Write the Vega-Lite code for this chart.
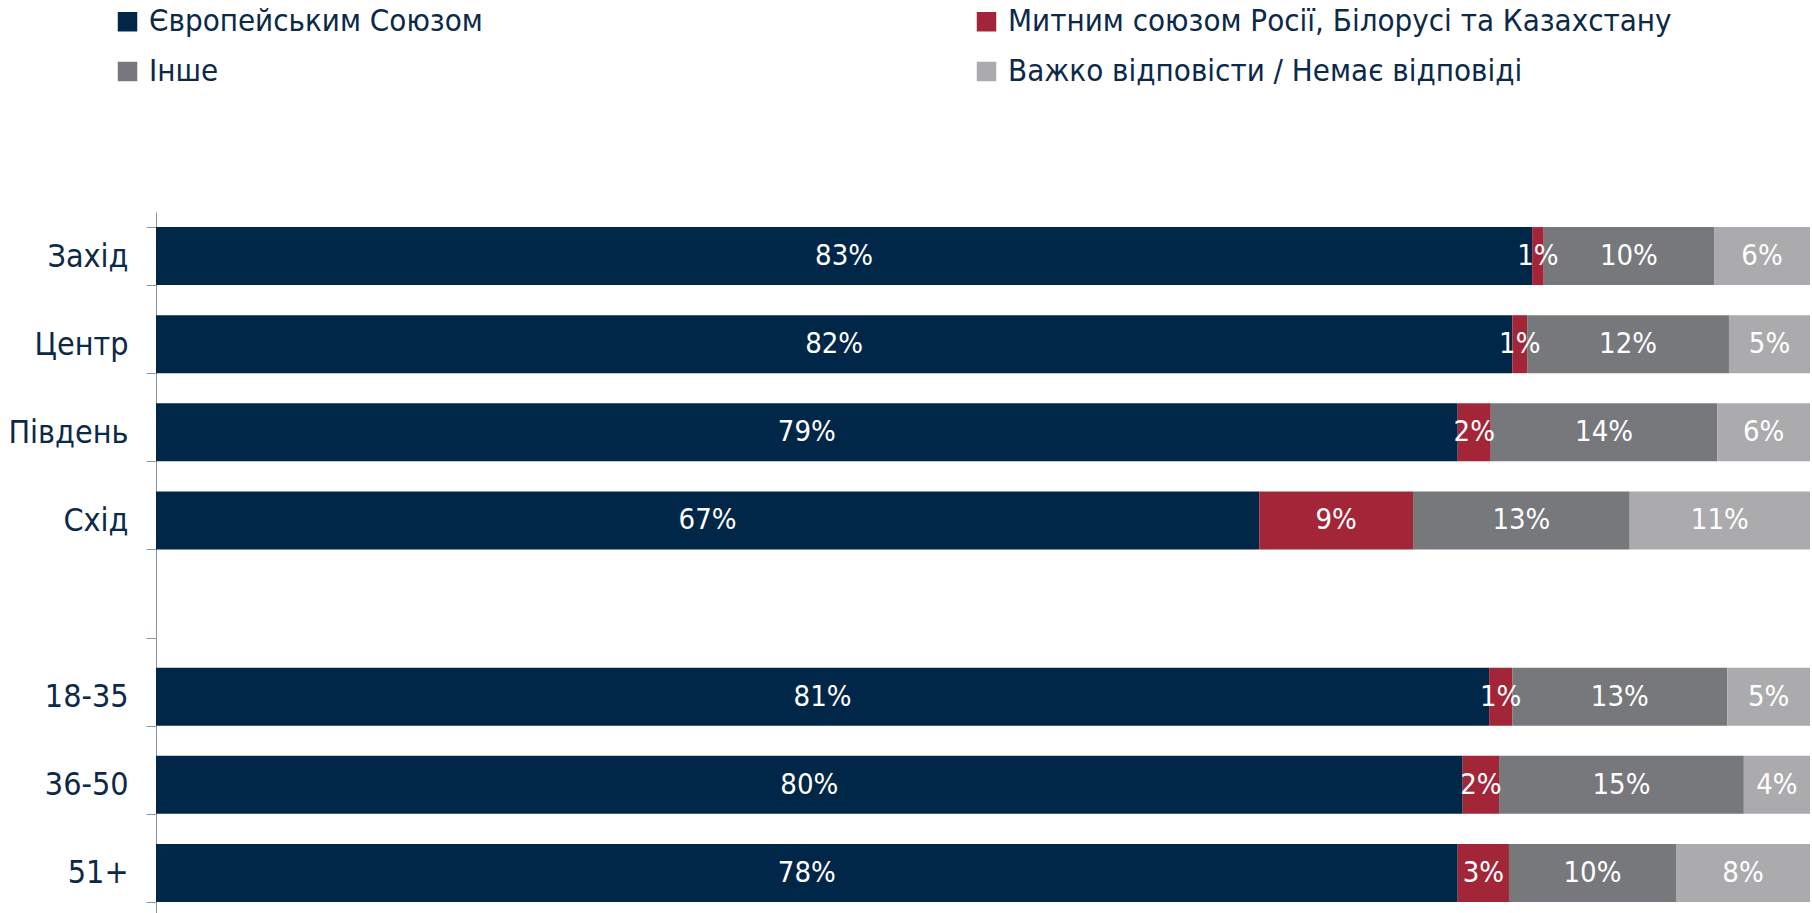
{
  "$schema": "https://vega.github.io/schema/vega-lite/v6.json",
  "autosize": {"type": "none"},
  "width": 1654,
  "height": 705,
  "padding": {"left": 156, "top": 212, "right": 2, "bottom": 0},
  "background": "white",
  "config": {"view": {"stroke": null}},
  "data": {"values": [
    {"g": "Захід", "c": "Європейським Союзом", "v": 83.2, "t": "83%", "o": 1},
    {"g": "Захід", "c": "Митним союзом Росії, Білорусі та Казахстану", "v": 0.7, "t": "1%", "o": 2},
    {"g": "Захід", "c": "Інше", "v": 10.3, "t": "10%", "o": 3},
    {"g": "Захід", "c": "Важко відповісти / Немає відповіді", "v": 5.8, "t": "6%", "o": 4},
    {"g": "Центр", "c": "Європейським Союзом", "v": 82.0, "t": "82%", "o": 1},
    {"g": "Центр", "c": "Митним союзом Росії, Білорусі та Казахстану", "v": 0.9, "t": "1%", "o": 2},
    {"g": "Центр", "c": "Інше", "v": 12.2, "t": "12%", "o": 3},
    {"g": "Центр", "c": "Важко відповісти / Немає відповіді", "v": 4.9, "t": "5%", "o": 4},
    {"g": "Південь", "c": "Європейським Союзом", "v": 78.7, "t": "79%", "o": 1},
    {"g": "Південь", "c": "Митним союзом Росії, Білорусі та Казахстану", "v": 2.0, "t": "2%", "o": 2},
    {"g": "Південь", "c": "Інше", "v": 13.7, "t": "14%", "o": 3},
    {"g": "Південь", "c": "Важко відповісти / Немає відповіді", "v": 5.6, "t": "6%", "o": 4},
    {"g": "Схід", "c": "Європейським Союзом", "v": 66.7, "t": "67%", "o": 1},
    {"g": "Схід", "c": "Митним союзом Росії, Білорусі та Казахстану", "v": 9.3, "t": "9%", "o": 2},
    {"g": "Схід", "c": "Інше", "v": 13.1, "t": "13%", "o": 3},
    {"g": "Схід", "c": "Важко відповісти / Немає відповіді", "v": 10.9, "t": "11%", "o": 4},
    {"g": "18-35", "c": "Європейським Союзом", "v": 80.6, "t": "81%", "o": 1},
    {"g": "18-35", "c": "Митним союзом Росії, Білорусі та Казахстану", "v": 1.4, "t": "1%", "o": 2},
    {"g": "18-35", "c": "Інше", "v": 13.0, "t": "13%", "o": 3},
    {"g": "18-35", "c": "Важко відповісти / Немає відповіді", "v": 5.0, "t": "5%", "o": 4},
    {"g": "36-50", "c": "Європейським Союзом", "v": 79.0, "t": "80%", "o": 1},
    {"g": "36-50", "c": "Митним союзом Росії, Білорусі та Казахстану", "v": 2.2, "t": "2%", "o": 2},
    {"g": "36-50", "c": "Інше", "v": 14.8, "t": "15%", "o": 3},
    {"g": "36-50", "c": "Важко відповісти / Немає відповіді", "v": 4.0, "t": "4%", "o": 4},
    {"g": "51+", "c": "Європейським Союзом", "v": 78.7, "t": "78%", "o": 1},
    {"g": "51+", "c": "Митним союзом Росії, Білорусі та Казахстану", "v": 3.1, "t": "3%", "o": 2},
    {"g": "51+", "c": "Інше", "v": 10.1, "t": "10%", "o": 3},
    {"g": "51+", "c": "Важко відповісти / Немає відповіді", "v": 8.1, "t": "8%", "o": 4}
  ]},
  "encoding": {
    "y": {
      "field": "g", "type": "nominal",
      "scale": {"domain": ["Захід", "Центр", "Південь", "Схід", " ", "18-35", "36-50", "51+"], "paddingInner": 0.342, "paddingOuter": 0.171},
      "axis": {
        "title": null, "tickBand": "extent", "tickSize": 10, "tickColor": "#8E96A4", "domainColor": "#8E96A4",
        "labelFont": "DejaVu Sans Condensed", "labelFontSize": 32, "labelColor": "#0B2949", "labelPadding": 18
      }
    },
    "x": {"field": "v", "type": "quantitative", "stack": "zero", "scale": {"domain": [0, 100], "nice": false}, "axis": null},
    "order": {"field": "o", "type": "quantitative"}
  },
  "layer": [
    {
      "mark": {"type": "bar"},
      "encoding": {
        "color": {
          "field": "c", "type": "nominal",
          "scale": {
            "domain": ["Європейським Союзом", "Інше", "Митним союзом Росії, Білорусі та Казахстану", "Важко відповісти / Немає відповіді"],
            "range": ["#002648", "#77787B", "#A32638", "#ABABAD"]
          },
          "legend": {
            "title": null, "orient": "none", "legendX": -44, "legendY": -206, "columns": 2, "columnPadding": 488, "rowPadding": 18,
            "symbolType": "square", "symbolSize": 380, "symbolStrokeWidth": 0, "labelOffset": 6,
            "labelFont": "DejaVu Sans Condensed", "labelFontSize": 31, "labelColor": "#0B2949", "labelLimit": 1000
          }
        }
      }
    },
    {
      "mark": {"type": "text", "color": "white", "font": "DejaVu Sans Condensed", "fontSize": 29, "baseline": "middle", "align": "center"},
      "encoding": {
        "x": {"field": "v", "type": "quantitative", "stack": "zero", "bandPosition": 0.5},
        "text": {"field": "t"}
      }
    }
  ]
}
